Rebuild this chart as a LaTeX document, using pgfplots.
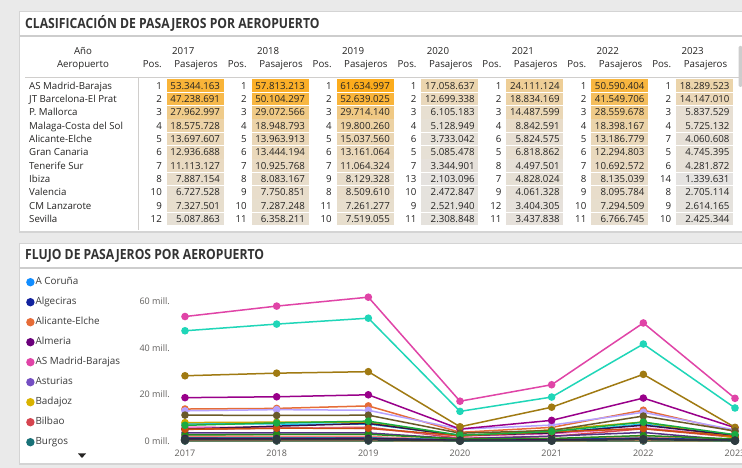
\documentclass[border=0pt]{standalone}
\usepackage{pgfplots}
\pgfplotsset{compat=1.18}
\usepackage{fontspec}
\setmainfont{Open Sans}
\usepackage{graphicx}

\definecolor{cBg}{HTML}{EAEAEA}
\definecolor{cBorder}{HTML}{D4D4D4}
\definecolor{cSep}{HTML}{CDCDCD}
\definecolor{cLine}{HTML}{D0CECC}
\definecolor{cText}{HTML}{252423}
\definecolor{cTitle}{HTML}{333333}
\definecolor{cAx}{HTML}{605E5C}
\definecolor{cLeg}{HTML}{3A3A3A}
\definecolor{cOr}{HTML}{FCAC1C}
\definecolor{cLow}{HTML}{E5E3E1}

% series colours
\definecolor{cCor}{HTML}{118DFF}
\definecolor{cAlg}{HTML}{12239E}
\definecolor{cAle}{HTML}{E66C37}
\definecolor{cAlm}{HTML}{6B007B}
\definecolor{cMad}{HTML}{E044A7}
\definecolor{cAst}{HTML}{744EC2}
\definecolor{cBad}{HTML}{D9B300}
\definecolor{cBil}{HTML}{D64550}
\definecolor{cBur}{HTML}{197278}
\definecolor{cAce}{HTML}{15C6F4}
\definecolor{cHie}{HTML}{FFA058}
\definecolor{cGra}{HTML}{BE5DC9}
\definecolor{cFue}{HTML}{F472D0}
\definecolor{cGro}{HTML}{FF8080}
\definecolor{cLpa}{HTML}{B5A1FF}
\definecolor{cIbz}{HTML}{C9A800}
\definecolor{cJer}{HTML}{5BD667}
\definecolor{cBcn}{HTML}{1FD6B8}
\definecolor{cSpc}{HTML}{0091D5}
\definecolor{cAgp}{HTML}{99008A}
\definecolor{cMah}{HTML}{533285}
\definecolor{cMur}{HTML}{FF4141}
\definecolor{cPmi}{HTML}{A07A12}
\definecolor{cReu}{HTML}{1F9A85}
\definecolor{cSdr}{HTML}{0057A2}
\definecolor{cScq}{HTML}{25891C}
\definecolor{cSvq}{HTML}{34124F}
\definecolor{cTfn}{HTML}{C94F0F}
\definecolor{cTfs}{HTML}{6A5A29}
\definecolor{cVlc}{HTML}{1AAB40}
\definecolor{cVgo}{HTML}{450F54}
\definecolor{cZaz}{HTML}{2E3B40}

\newcommand\tabfont{\fontsize{9.7bp}{11bp}\selectfont}
\newcommand\legfont{\fontsize{9.9bp}{11bp}\selectfont}
\newcommand\axfont{\fontsize{9bp}{10bp}\selectfont}
\newcommand\titlefont{\fontsize{14bp}{16bp}\selectfont\bfseries}
\def\getmill#1.#2.#3\relax{#1.#2}

\newcommand{\tabrow}[3]{%
  \pgfmathsetmacro{\yc}{85.7+13.33*(#1-1)}
  \node[anchor=base west, inner sep=0, text=cText, font=\tabfont] at (29,\yc+3.4) {#2};
  \foreach \p/\v [count=\k from 0] in {#3} {
    \edef\vm{\expandafter\getmill\v\relax}
    \pgfmathtruncatemacro{\t}{max(0,min(100,round((\vm-1.34)/(61.635-1.34)*100)))}
    \pgfmathsetmacro{\xa}{166.7+84.9*\k}
    \fill[cOr!\t!cLow] (\xa,\yc-6.3) rectangle (\xa+57,\yc+6.3);
    \node[anchor=base east, inner sep=0, font=\tabfont, text=cText] at (\xa+53.5,\yc+3.4) {\v};
    \node[anchor=base east, inner sep=0, font=\tabfont, text=cText] at (\xa-4.7,\yc+3.4) {\p};
  }
}

\pgfplotsset{ser/.style={color=#1, line width=1.5bp, mark=*, mark size=3bp, mark options={solid, fill=#1}}}

\begin{document}
\begin{tikzpicture}
\useasboundingbox (0,0) rectangle (742bp,468bp);
\clip (0,0) rectangle (742bp,468bp);
\fill[cBg] (0,0) rectangle (742bp,468bp);

\begin{scope}[x=1bp,y=-1bp,yshift=468bp]
  % panels
  \fill[cBorder] (19,11) rectangle (746,233);
  \fill[white] (20,12) rectangle (746,231);
  \fill[cBorder] (19,243) rectangle (746,465);
  \fill[white] (20,244) rectangle (746,463);
  % title separators
  \fill[cSep] (20,35.5) rectangle (746,37.5);
  \fill[cSep] (20,267) rectangle (746,269);
  % titles
  \node[anchor=west, inner sep=0, text=cTitle] at (25,23.5) {\scalebox{0.87}[1]{\titlefont CLASIFICACIÓN DE PASAJEROS POR AEROPUERTO}};
  \node[anchor=west, inner sep=0, text=cTitle] at (25,255.5) {\scalebox{0.87}[1]{\titlefont FLUJO DE PASAJEROS POR AEROPUERTO}};
  % scrollbar
  \fill[cSep, rounded corners=1.5bp] (738.5,46) rectangle (742.5,87);
  % table header
  \node[anchor=base, inner sep=0, font=\tabfont, text=cText] at (83,54.4) {Año};
  \node[anchor=base, inner sep=0, font=\tabfont, text=cText] at (83,67.8) {Aeropuerto};
  \foreach \yr [count=\k from 0] in {2017,2018,2019,2020,2021,2022,2023} {
    \pgfmathsetmacro{\xa}{166.7+84.9*\k}
    \node[anchor=base west, inner sep=0, font=\tabfont, text=cText] at (\xa+5.3,54.4) {\yr};
    \node[anchor=base east, inner sep=0, font=\tabfont, text=cText] at (\xa-4.7,67.8) {Pos.};
    \node[anchor=base east, inner sep=0, font=\tabfont, text=cText] at (\xa+51.3,67.8) {Pasajeros};
  }
  \draw[cLine, line width=0.8bp] (25,77) -- (746,77);
  \draw[cLine, line width=0.8bp] (138,77) -- (138,230);
  % table rows
  \tabrow{1}{AS Madrid-Barajas}{1/53.344.163, 1/57.813.213, 1/61.634.997, 1/17.058.637, 1/24.111.124, 1/50.590.404, 1/18.289.523}
  \tabrow{2}{JT Barcelona-El Prat}{2/47.238.691, 2/50.104.297, 2/52.639.025, 2/12.699.338, 2/18.834.169, 2/41.549.706, 2/14.147.010}
  \tabrow{3}{P. Mallorca}{3/27.962.997, 3/29.072.566, 3/29.714.140, 3/6.105.183, 3/14.487.599, 3/28.559.678, 3/5.837.529}
  \tabrow{4}{Malaga-Costa del Sol}{4/18.575.728, 4/18.948.793, 4/19.800.260, 4/5.128.949, 4/8.842.591, 4/18.398.167, 4/5.725.132}
  \tabrow{5}{Alicante-Elche}{5/13.697.607, 5/13.963.913, 5/15.037.560, 6/3.733.042, 6/5.824.575, 5/13.186.779, 7/4.060.608}
  \tabrow{6}{Gran Canaria}{6/12.936.688, 6/13.444.194, 6/13.161.064, 5/5.085.478, 5/6.818.862, 6/12.294.803, 5/4.745.395}
  \tabrow{7}{Tenerife Sur}{7/11.113.127, 7/10.925.768, 7/11.064.324, 7/3.344.901, 8/4.497.501, 7/10.692.572, 6/4.281.872}
  \tabrow{8}{Ibiza}{8/7.887.154, 8/8.083.167, 9/8.129.328, 13/2.103.096, 7/4.828.024, 8/8.135.039, 14/1.339.631}
  \tabrow{9}{Valencia}{10/6.727.528, 9/7.750.851, 8/8.509.610, 10/2.472.847, 9/4.061.328, 9/8.095.784, 8/2.705.114}
  \tabrow{10}{CM Lanzarote}{9/7.327.501, 10/7.287.248, 11/7.261.277, 9/2.521.940, 12/3.404.305, 10/7.294.509, 9/2.614.165}
  \tabrow{11}{Sevilla}{12/5.087.863, 11/6.358.211, 10/7.519.055, 11/2.308.848, 11/3.437.838, 11/6.766.745, 10/2.425.344}
  % legend scroll arrow
  \fill[cText] (78,453.5) -- (86,453.5) -- (82,458) -- cycle;
\end{scope}

\begin{axis}[
  at={(185bp,27bp)}, anchor=south west,
  scale only axis, width=550bp, height=140bp,
  xmin=2017, xmax=2023, ymin=0, ymax=60,
  clip=false,
  axis line style={draw=none},
  major tick length=0pt,
  xtick={2017,2018,2019,2020,2021,2022,2023},
  xticklabels={2017,2018,2019,2020,2021,2022,2023},
  ytick={0,20,40,60},
  yticklabels={0 mill.,20 mill.,40 mill.,60 mill.},
  xticklabel style={font=\axfont, text=cAx, inner sep=0pt, anchor=north, yshift=-8.5bp},
  yticklabel style={font=\axfont, text=cAx, inner sep=0pt, anchor=east, xshift=-15bp},
  legend style={at={(-0.289,1.175)}, anchor=north west, draw=none, fill=none,
    font=\legfont, text=cLeg, inner sep=0pt, row sep=9bp,
    nodes={inner sep=1bp, text height=7bp, text depth=2bp}},
  legend cell align=left,
  legend image code/.code={\fill (3.4bp,0bp) circle (3.4bp);},
]
% legend series (alphabetical order)
\addplot[ser=cCor] coordinates {(2017,1.182)(2018,1.280)(2019,1.310)(2020,0.340)(2021,0.550)(2022,1.160)(2023,0.380)};
\addlegendentry{A Coruña}
\addplot[ser=cAlg] coordinates {(2017,0.030)(2018,0.030)(2019,0.030)(2020,0.010)(2021,0.020)(2022,0.030)(2023,0.010)};
\addlegendentry{Algeciras}
\addplot[ser=cAle] coordinates {(2017,13.698)(2018,13.964)(2019,15.038)(2020,3.733)(2021,5.825)(2022,13.187)(2023,4.061)};
\addlegendentry{Alicante-Elche}
\addplot[ser=cAlm] coordinates {(2017,0.990)(2018,1.010)(2019,1.030)(2020,0.310)(2021,0.430)(2022,0.920)(2023,0.240)};
\addlegendentry{Almeria}
\addplot[ser=cMad] coordinates {(2017,53.344)(2018,57.813)(2019,61.635)(2020,17.059)(2021,24.111)(2022,50.590)(2023,18.290)};
\addlegendentry{AS Madrid-Barajas}
\addplot[ser=cAst] coordinates {(2017,1.400)(2018,1.410)(2019,1.440)(2020,0.480)(2021,0.800)(2022,1.460)(2023,0.420)};
\addlegendentry{Asturias}
\addplot[ser=cBad] coordinates {(2017,0.070)(2018,0.070)(2019,0.080)(2020,0.030)(2021,0.050)(2022,0.100)(2023,0.030)};
\addlegendentry{Badajoz}
\addplot[ser=cBil] coordinates {(2017,4.990)(2018,5.470)(2019,5.910)(2020,1.170)(2021,1.930)(2022,5.250)(2023,1.600)};
\addlegendentry{Bilbao}
\addplot[ser=cBur] coordinates {(2017,0.010)(2018,0.010)(2019,0.010)(2020,0.000)(2021,0.000)(2022,0.010)(2023,0.000)};
\addlegendentry{Burgos}
% remaining series
\addplot[ser=cAce, forget plot] coordinates {(2017,7.328)(2018,7.287)(2019,7.261)(2020,2.522)(2021,3.404)(2022,7.295)(2023,2.614)};
\addplot[ser=cHie, forget plot] coordinates {(2017,0.260)(2018,0.260)(2019,0.250)(2020,0.120)(2021,0.180)(2022,0.270)(2023,0.080)};
\addplot[ser=cGra, forget plot] coordinates {(2017,1.000)(2018,1.100)(2019,1.200)(2020,0.400)(2021,0.600)(2022,1.100)(2023,0.360)};
\addplot[ser=cFue, forget plot] coordinates {(2017,5.990)(2018,5.700)(2019,5.420)(2020,2.050)(2021,3.100)(2022,5.680)(2023,2.020)};
\addplot[ser=cGro, forget plot] coordinates {(2017,2.140)(2018,2.000)(2019,1.950)(2020,0.340)(2021,0.480)(2022,1.840)(2023,0.300)};
\addplot[ser=cLpa, forget plot] coordinates {(2017,12.937)(2018,13.444)(2019,13.161)(2020,5.085)(2021,6.819)(2022,12.295)(2023,4.745)};
\addplot[ser=cIbz, forget plot] coordinates {(2017,7.887)(2018,8.083)(2019,8.129)(2020,2.103)(2021,4.828)(2022,8.135)(2023,1.340)};
\addplot[ser=cJer, forget plot] coordinates {(2017,1.100)(2018,1.120)(2019,1.260)(2020,0.310)(2021,0.490)(2022,1.200)(2023,0.240)};
\addplot[ser=cBcn, forget plot] coordinates {(2017,47.239)(2018,50.104)(2019,52.639)(2020,12.699)(2021,18.834)(2022,41.550)(2023,14.147)};
\addplot[ser=cSpc, forget plot] coordinates {(2017,1.230)(2018,1.320)(2019,1.240)(2020,0.570)(2021,0.760)(2022,1.050)(2023,0.380)};
\addplot[ser=cAgp, forget plot] coordinates {(2017,18.576)(2018,18.949)(2019,19.800)(2020,5.129)(2021,8.843)(2022,18.398)(2023,5.725)};
\addplot[ser=cMah, forget plot] coordinates {(2017,3.440)(2018,3.500)(2019,3.450)(2020,0.940)(2021,2.090)(2022,3.660)(2023,0.310)};
\addplot[ser=cMur, forget plot] coordinates {(2017,1.170)(2018,1.100)(2019,1.010)(2020,0.300)(2021,0.530)(2022,1.000)(2023,0.300)};
\addplot[ser=cPmi, forget plot] coordinates {(2017,27.963)(2018,29.073)(2019,29.714)(2020,6.105)(2021,14.488)(2022,28.560)(2023,5.838)};
\addplot[ser=cReu, forget plot] coordinates {(2017,1.320)(2018,1.170)(2019,1.020)(2020,0.090)(2021,0.260)(2022,0.750)(2023,0.050)};
\addplot[ser=cSdr, forget plot] coordinates {(2017,1.150)(2018,1.130)(2019,1.150)(2020,0.300)(2021,0.600)(2022,1.190)(2023,0.440)};
\addplot[ser=cScq, forget plot] coordinates {(2017,2.590)(2018,2.790)(2019,2.880)(2020,0.830)(2021,1.070)(2022,2.330)(2023,0.860)};
\addplot[ser=cSvq, forget plot] coordinates {(2017,5.088)(2018,6.358)(2019,7.519)(2020,2.309)(2021,3.438)(2022,6.767)(2023,2.425)};
\addplot[ser=cTfn, forget plot] coordinates {(2017,5.050)(2018,5.480)(2019,5.440)(2020,2.250)(2021,3.900)(2022,5.300)(2023,1.980)};
\addplot[ser=cTfs, forget plot] coordinates {(2017,11.113)(2018,10.926)(2019,11.064)(2020,3.345)(2021,4.498)(2022,10.693)(2023,4.282)};
\addplot[ser=cVlc, forget plot] coordinates {(2017,6.728)(2018,7.751)(2019,8.510)(2020,2.473)(2021,4.061)(2022,8.096)(2023,2.705)};
\addplot[ser=cVgo, forget plot] coordinates {(2017,1.100)(2018,1.020)(2019,1.100)(2020,0.300)(2021,0.510)(2022,0.920)(2023,0.310)};
\addplot[ser=cZaz, mark size=3.6bp, forget plot] coordinates {(2017,0.440)(2018,0.490)(2019,0.460)(2020,0.160)(2021,0.210)(2022,0.570)(2023,0.150)};
\end{axis}
\end{tikzpicture}
\end{document}
